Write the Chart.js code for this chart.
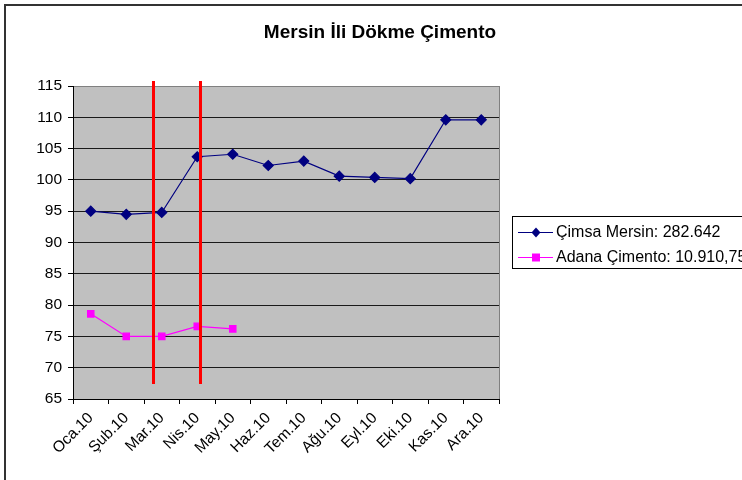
<!doctype html>
<html>
	<head>
		<title>Mersin İli Dökme Çimento</title>
		<meta charset="utf-8">
		<script src="https://cdnjs.cloudflare.com/ajax/libs/Chart.js/4.4.0/chart.umd.min.js"></script>
		<style>
			body { margin: 0; background: #fff; }
			canvas { display: block; }
		</style>
	</head>
	<body>
		<canvas id="canvas" width="742" height="480"></canvas>

<script>
			var months = ['Oca.10', 'Şub.10', 'Mar.10', 'Nis.10', 'May.10', 'Haz.10', 'Tem.10', 'Ağu.10', 'Eyl.10', 'Eki.10', 'Kas.10', 'Ara.10'];
			var cimsa  = [95.0, 94.5, 94.8, 103.7, 104.1, 102.3, 103.0, 100.6, 100.4, 100.2, 109.6, 109.6];
			var adana  = [78.6, 75.0, 75.0, 76.6, 76.2, null, null, null, null, null, null, null];
			var labels = ['Çimsa Mersin: 282.642', 'Adana Çimento: 10.910,75'];
			var chartTitle = 'Mersin İli Dökme Çimento';

			// red marker lines, in category index units and value range
			var markLines  = [1.75, 3.08];
			var markTop    = 115.8;
			var markBottom = 67.4;

			var FONT = '"Liberation Sans", Arial, sans-serif';

			var extras = {
				id: 'extras',
				beforeDraw: function(chart) {
					var ctx = chart.ctx, a = chart.chartArea;
					ctx.save();
					ctx.fillStyle = '#fff';
					ctx.fillRect(0, 0, chart.width, chart.height);
					ctx.fillStyle = '#c0c0c0';
					ctx.fillRect(a.left, a.top, a.right - a.left, a.bottom - a.top);
					ctx.restore();
				},
				afterDatasetsDraw: function(chart) {
					var ctx = chart.ctx, x = chart.scales.x, y = chart.scales.y;
					ctx.save();
					ctx.strokeStyle = '#ff0000';
					ctx.lineWidth = 3;
					markLines.forEach(function(v) {
						var px = Math.round(x.getPixelForValue(v)) + 0.5;
						ctx.beginPath();
						ctx.moveTo(px, y.getPixelForValue(markTop));
						ctx.lineTo(px, y.getPixelForValue(markBottom));
						ctx.stroke();
					});
					ctx.restore();
				},
				afterDraw: function(chart) {
					var ctx = chart.ctx, a = chart.chartArea;
					ctx.save();
					// plot area right edge
					ctx.strokeStyle = '#808080';
					ctx.lineWidth = 1;
					ctx.beginPath();
					ctx.moveTo(a.right + 0.5, a.top);
					ctx.lineTo(a.right + 0.5, a.bottom);
					ctx.stroke();
					// outer frame
					ctx.strokeStyle = '#333';
					ctx.lineWidth = 2;
					ctx.strokeRect(5, 5, 800, 600);
					// title
					ctx.fillStyle = '#000';
					ctx.font = 'bold 19px ' + FONT;
					ctx.textAlign = 'center';
					ctx.textBaseline = 'middle';
					ctx.fillText(chartTitle, 380, 33);
					// legend
					ctx.strokeStyle = '#000';
					ctx.lineWidth = 1;
					ctx.strokeRect(512.5, 216.5, 300, 52);
					ctx.font = '16px ' + FONT;
					ctx.textAlign = 'left';
					chart.data.datasets.forEach(function(ds, i) {
						var ly = 232 + i * 25;
						ctx.strokeStyle = ds.borderColor;
						ctx.lineWidth = 1;
						ctx.beginPath();
						ctx.moveTo(518, ly + 0.5);
						ctx.lineTo(553, ly + 0.5);
						ctx.stroke();
						ctx.fillStyle = ds.pointBackgroundColor;
						ctx.beginPath();
						if (ds.pointStyle === 'rectRot') {
							ctx.moveTo(536, ly - 4.5);
							ctx.lineTo(540.5, ly + 0.5);
							ctx.lineTo(536, ly + 5.5);
							ctx.lineTo(531.5, ly + 0.5);
						} else {
							ctx.rect(532, ly - 3.5, 8, 8);
						}
						ctx.fill();
						ctx.fillStyle = '#000';
						ctx.fillText(ds.label, 556, ly + 1);
					});
					ctx.restore();
				}
			};

			new Chart(document.getElementById('canvas'), {
				type: 'line',
				data: {
					labels: months,
					datasets: [{
						label: labels[0],
						data: cimsa,
						borderColor: '#000080',
						backgroundColor: '#000080',
						pointBackgroundColor: '#000080',
						pointBorderColor: '#000080',
						pointStyle: 'rectRot',
						pointRadius: 5,
						borderWidth: 1.2,
						fill: false,
						tension: 0
					}, {
						label: labels[1],
						data: adana,
						borderColor: '#ff00ff',
						backgroundColor: '#ff00ff',
						pointBackgroundColor: '#ff00ff',
						pointBorderColor: '#ff00ff',
						pointStyle: 'rect',
						pointRadius: 4.5,
						borderWidth: 1.2,
						fill: false,
						tension: 0
					}]
				},
				options: {
					responsive: false,
					animation: false,
					layout: { padding: { left: 5, top: 86, right: 243, bottom: 0 } },
					plugins: {
						legend: { display: false },
						title: { display: false },
						tooltip: { enabled: false }
					},
					scales: {
						x: {
							offset: true,
							grid: { drawOnChartArea: false, drawTicks: true, tickLength: 5, tickColor: '#000', offset: true },
							border: { color: '#000', width: 1 },
							ticks: { color: '#000', font: { family: FONT, size: 15.5 }, maxRotation: 45, minRotation: 45, autoSkip: false, padding: 5 },
							afterFit: function(s) { s.height = 81; s.paddingLeft = 0; s.paddingRight = 0; }
						},
						y: {
							min: 65,
							max: 115,
							ticks: { stepSize: 5, color: '#000', font: { family: FONT, size: 15.5 }, padding: 6 },
							grid: {
								color: function(c) { return c.tick && c.tick.value === 115 ? '#808080' : '#1a1a1a'; },
								tickColor: '#000',
								tickLength: 5
							},
							border: { color: '#000', width: 1 },
							afterFit: function(s) { s.width = 68; s.paddingTop = 0; s.paddingBottom = 0; }
						}
					}
				},
				plugins: [extras]
			});
		</script>
	</body>
</html>
